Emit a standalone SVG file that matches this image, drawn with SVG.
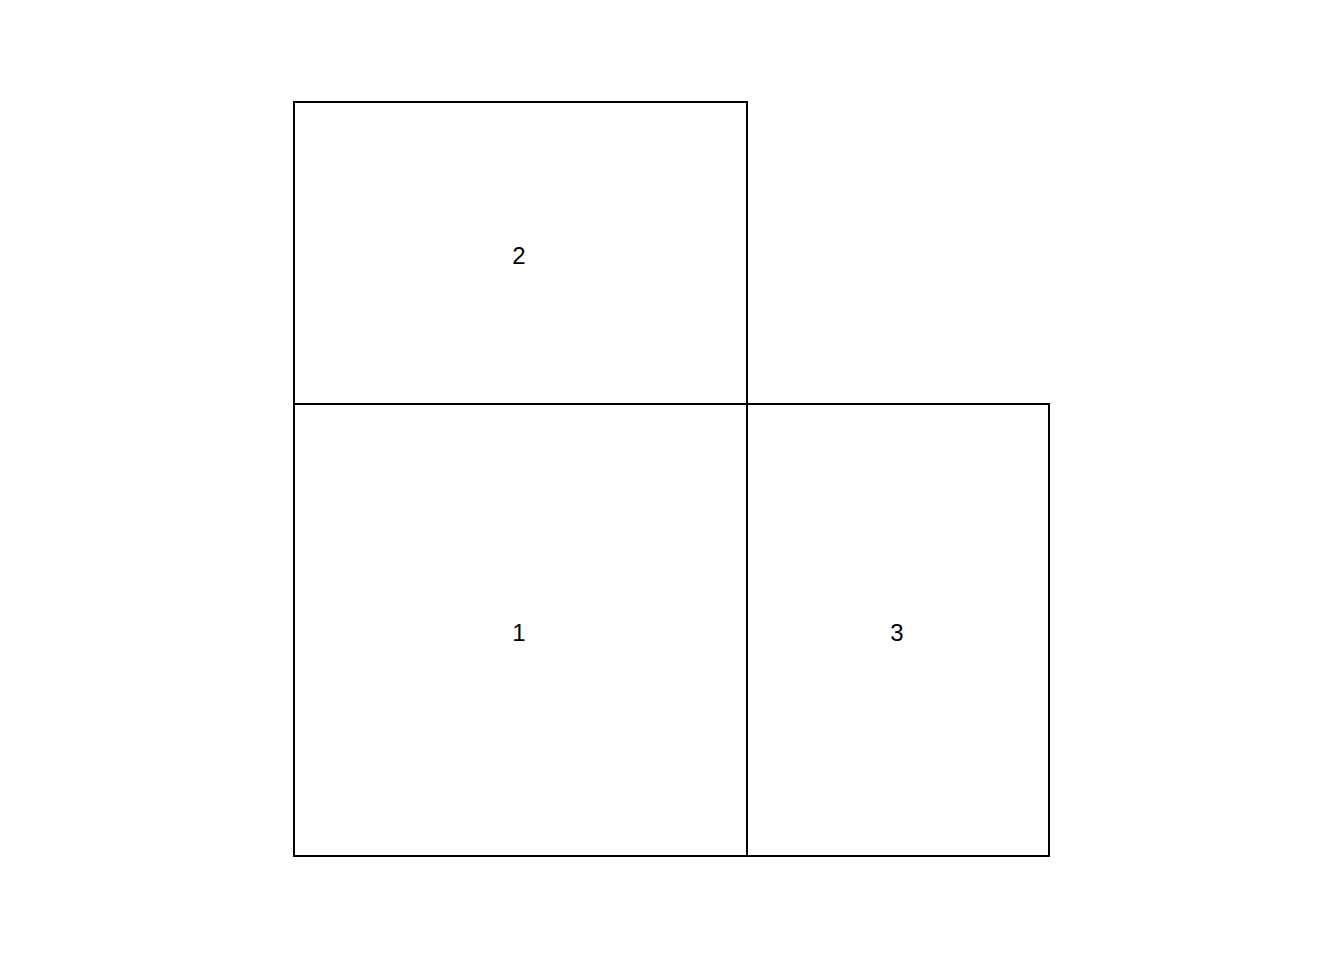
<svg xmlns="http://www.w3.org/2000/svg" width="1344" height="960" viewBox="0 0 1344 960">
<style>
.cell{fill:none;stroke:#000;stroke-width:2}
.lbl{font-family:"Liberation Sans",Arial,sans-serif;font-size:24px;fill:#000;text-anchor:middle}
</style>
<rect width="1344" height="960" fill="#fff"/>
<g id="node2"><rect class="cell" x="294" y="102" width="453" height="302"/><text class="lbl" x="519" y="264">2</text></g>
<g id="node1"><rect class="cell" x="294" y="404" width="453" height="452"/><text class="lbl" x="519" y="641">1</text></g>
<g id="node3"><rect class="cell" x="747" y="404" width="302" height="452"/><text class="lbl" x="897" y="641">3</text></g>
<g id="connectors"></g>
</svg>
